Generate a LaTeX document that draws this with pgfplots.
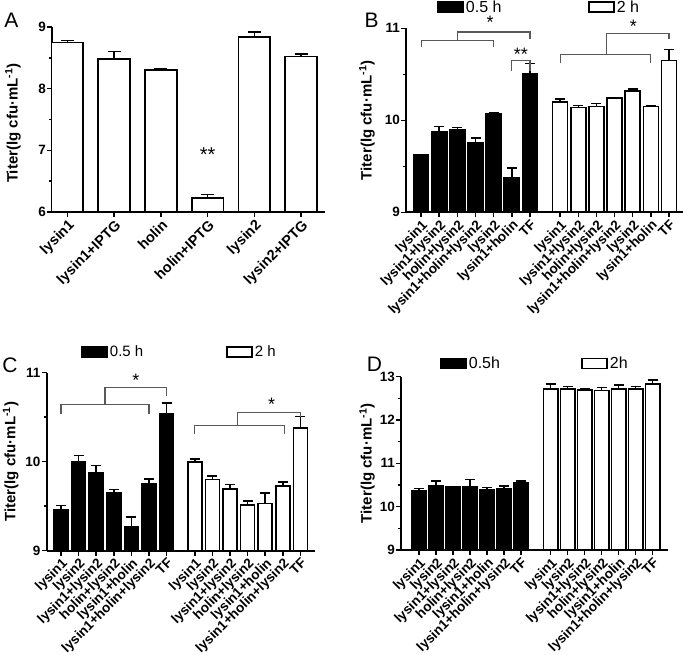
\documentclass[border=0pt]{standalone}
\usepackage{fontspec}
\setmainfont{Liberation Sans}
\usepackage{pgfplots}
\pgfplotsset{compat=1.18}
\tikzset{brk/.style={gray!70!black,line width=1.1pt}}
\pgfplotsset{
  panel/.style={
    scale only axis,
    anchor=south west,
    axis lines=left,
    axis line style={line width=1.7pt,-},
    clip mode=individual,
    tick align=outside,
    major tick length=5pt,
    minor tick length=3pt,
    every tick/.style={black,line width=1.5pt},
    minor y tick num=1,
    /pgf/number format/assume math mode=true,
    yticklabel style={font=\bfseries\fontsize{13.5}{13.5}\selectfont, inner sep=1pt},
    xticklabel style={font=\bfseries\fontsize{13.6}{13.6}\selectfont, rotate=45, anchor=north east, inner sep=1pt},
    ylabel={Titer(lg cfu·mL\textsuperscript{-1})},
    ylabel style={font=\bfseries\fontsize{15}{15}\selectfont, anchor=center},
    error bars/y dir=plus,
    error bars/y explicit,
    error bars/error bar style={line width=1.5pt,black},
    error bars/error mark options={rotate=90,mark size=5pt,line width=1.5pt,black},
    legend style={draw=none,fill=none,anchor=west,inner sep=0pt,font=\fontsize{15}{15}\selectfont},
  },
  blackbar/.style={ybar,bar shift=0pt,fill=black,draw=black,line width=1.7pt,
    legend image code/.code={\draw[fill=black,draw=black,line width=1.7pt] (0pt,-5pt) rectangle (25pt,5pt);}},
  whitebar/.style={ybar,bar shift=0pt,fill=white,draw=black,line width=1.7pt,
    legend image code/.code={\draw[fill=white,draw=black,line width=1.7pt] (0pt,-5pt) rectangle (25pt,5pt);}},
  Bpos/.style={at={(406pt,442.7pt)}, width=277pt, height=184pt,
    xmin=-0.83, xmax=14.43, ymin=9, ymax=11},
  Cpos/.style={at={(46.7pt,104.3pt)}, width=268.3pt, height=178pt,
    xmin=-0.81, xmax=14.43, ymin=9, ymax=11},
  Dpos/.style={at={(401pt,105pt)}, width=267pt, height=173.3pt,
    xmin=-1.06, xmax=14.65, ymin=9, ymax=13},
}
\begin{document}
\begin{tikzpicture}
\useasboundingbox (0pt,0pt) rectangle (685pt,655pt);

% ---------------- Panel A ----------------
\begin{axis}[panel,
  at={(52pt,443pt)}, width=273pt, height=185pt,
  xmin=-0.33, xmax=5.51, ymin=6, ymax=9,
  ytick={6,7,8,9},
  xtick={0,1,2,3,4,5},
  xticklabels={lysin1,lysin1+IPTG,holin,holin+IPTG,lysin2,lysin2+IPTG},
  xticklabel style={font=\bfseries\fontsize{14.5}{14.5}\selectfont},
  ylabel style={at={(axis description cs:-0.143,0.48)}},
  error bars/error mark options={rotate=90,mark size=6.5pt,line width=1.5pt,black},
]
\addplot[whitebar, bar width=31.7pt] coordinates {
  (0,8.75) +- (0,0.03)
  (1,8.48) +- (0,0.12)
  (2,8.30) +- (0,0.03)
  (3,6.23) +- (0,0.05)
  (4,8.84) +- (0,0.08)
  (5,8.52) +- (0,0.04)
};
\node[font=\fontsize{20}{20}\selectfont] at (axis cs:3,6.93) {**};
\end{axis}
\node[font=\fontsize{21}{21}\selectfont] at (11.5pt,634.5pt) {A};

% ---------------- Panel B ----------------
\begin{axis}[panel, Bpos, hide axis,
  legend style={at={(axis description cs:0.657,1.114)},font=\fontsize{16}{16}\selectfont},
]
\addplot[whitebar, bar width=15pt] coordinates {
  (7.66,10.20) +- (0,0.03)
  (8.66,10.14) +- (0,0.02)
  (9.66,10.15) +- (0,0.03)
  (10.66,10.24) +- (0,0.01)
  (11.66,10.32) +- (0,0.02)
  (12.66,10.15) +- (0,0.01)
  (13.66,10.65) +- (0,0.12)
};
\addlegendentry{2 h}
\end{axis}
\begin{axis}[panel, Bpos,
  ytick={9,10,11},
  xtick={0,1,2,3,4,5,6,7.66,8.66,9.66,10.66,11.66,12.66,13.66},
  xticklabels={lysin1,lysin1+lysin2,holin+lysin2,lysin1+holin+lysin2,lysin2,lysin1+holin,TF,
               lysin1,lysin1+lysin2,holin+lysin2,lysin1+holin+lysin2,lysin2,lysin1+holin,TF},
  ylabel style={at={(axis description cs:-0.141,0.5)}},
  legend style={at={(axis description cs:0.112,1.114)},font=\fontsize{16}{16}\selectfont},
]
\addplot[blackbar, bar width=15pt] coordinates {
  (0,9.62) +- (0,0.01)
  (1,9.87) +- (0,0.06)
  (2,9.90) +- (0,0.02)
  (3,9.75) +- (0,0.06)
  (4,10.07) +- (0,0.01)
  (5,9.37) +- (0,0.11)
  (6,10.50) +- (0,0.12)
};
\addlegendentry{0.5 h}
\draw[brk] (axis cs:0,10.80) -- (axis cs:0,10.87) -- (axis cs:4,10.87) -- (axis cs:4,10.80);
\draw[brk] (axis cs:2,10.87) -- (axis cs:2,10.96) -- (axis cs:6,10.96) -- (axis cs:6,10.88);
\node[font=\fontsize{18}{18}\selectfont] at (axis cs:3.8,11.07) {*};
\draw[brk] (axis cs:5,10.54) -- (axis cs:5,10.65) -- (axis cs:6,10.65) -- (axis cs:6,10.54);
\node[font=\fontsize{18}{18}\selectfont] at (axis cs:5.5,10.72) {**};
\draw[brk] (axis cs:7.66,10.62) -- (axis cs:7.66,10.72) -- (axis cs:12.66,10.72) -- (axis cs:12.66,10.62);
\draw[brk] (axis cs:10.2,10.72) -- (axis cs:10.2,10.94) -- (axis cs:13.66,10.94) -- (axis cs:13.66,10.88);
\node[font=\fontsize{18}{18}\selectfont] at (axis cs:11.7,11.02) {*};
\end{axis}
\node[font=\fontsize{21}{21}\selectfont] at (371.5pt,634.5pt) {B};

% ---------------- Panel C ----------------
\begin{axis}[panel, Cpos, hide axis,
  legend style={at={(axis description cs:0.668,1.118)}},
]
\addplot[whitebar, bar width=14pt] coordinates {
  (7.6,10.00) +- (0,0.03)
  (8.6,9.80) +- (0,0.04)
  (9.6,9.69) +- (0,0.055)
  (10.6,9.51) +- (0,0.05)
  (11.6,9.53) +- (0,0.12)
  (12.6,9.73) +- (0,0.04)
  (13.6,10.38) +- (0,0.125)
};
\addlegendentry{2 h}
\end{axis}
\begin{axis}[panel, Cpos,
  ytick={9,10,11},
  xtick={0,1,2,3,4,5,6,7.6,8.6,9.6,10.6,11.6,12.6,13.6},
  xticklabels={lysin1,lysin2,lysin1+lysin2,holin+lysin2,lysin1+holin,lysin1+holin+lysin2,TF,
               lysin1,lysin2,lysin1+lysin2,holin+lysin2,lysin1+holin,lysin1+holin+lysin2,TF},
  ylabel style={at={(axis description cs:-0.134,0.5)}},
  legend style={at={(axis description cs:0.128,1.118)}},
]
\addplot[blackbar, bar width=14pt] coordinates {
  (0,9.46) +- (0,0.05)
  (1,10.00) +- (0,0.07)
  (2,9.88) +- (0,0.075)
  (3,9.65) +- (0,0.04)
  (4,9.27) +- (0,0.11)
  (5,9.75) +- (0,0.055)
  (6,10.535) +- (0,0.125)
};
\addlegendentry{0.5 h}
\draw[brk] (axis cs:0,10.54) -- (axis cs:0,10.64) -- (axis cs:5,10.64) -- (axis cs:5,10.54);
\draw[brk] (axis cs:2.5,10.64) -- (axis cs:2.5,10.835) -- (axis cs:6,10.835) -- (axis cs:6,10.74);
\node[font=\fontsize{18}{18}\selectfont] at (axis cs:4.26,10.92) {*};
\draw[brk] (axis cs:7.6,10.31) -- (axis cs:7.6,10.41) -- (axis cs:12.7,10.41) -- (axis cs:12.7,10.31);
\draw[brk] (axis cs:10.05,10.41) -- (axis cs:10.05,10.55) -- (axis cs:13.6,10.55) -- (axis cs:13.6,10.50);
\node[font=\fontsize{18}{18}\selectfont] at (axis cs:11.97,10.65) {*};
\end{axis}
\node[font=\fontsize{21}{21}\selectfont] at (10pt,290pt) {C};

% ---------------- Panel D ----------------
\begin{axis}[panel, Dpos, hide axis,
  legend style={at={(axis description cs:0.674,1.077)},font=\fontsize{16}{16}\selectfont},
]
\addplot[whitebar, bar width=14.5pt] coordinates {
  (7.75,12.72) +- (0,0.11)
  (8.75,12.71) +- (0,0.06)
  (9.75,12.69) +- (0,0.04)
  (10.75,12.68) +- (0,0.07)
  (11.75,12.72) +- (0,0.09)
  (12.75,12.72) +- (0,0.05)
  (13.75,12.83) +- (0,0.09)
};
\addlegendentry{2h}
\end{axis}
\begin{axis}[panel, Dpos,
  ytick={9,10,11,12,13},
  xtick={0,1,2,3,4,5,6,7.75,8.75,9.75,10.75,11.75,12.75,13.75},
  xticklabels={lysin1,lysin2,lysin1+lysin2,holin+lysin2,lysin1+holin,lysin1+holin+lysin2,TF,
               lysin1,lysin2,lysin1+lysin2,holin+lysin2,lysin1+holin,lysin1+holin+lysin2,TF},
  ylabel style={at={(axis description cs:-0.127,0.5)}},
  legend style={at={(axis description cs:0.146,1.077)},font=\fontsize{16}{16}\selectfont},
]
\addplot[blackbar, bar width=14.5pt] coordinates {
  (0,10.36) +- (0,0.06)
  (1,10.48) +- (0,0.11)
  (2,10.45) +- (0,0.01)
  (3,10.46) +- (0,0.17)
  (4,10.38) +- (0,0.06)
  (5,10.41) +- (0,0.07)
  (6,10.54) +- (0,0.05)
};
\addlegendentry{0.5h}
\end{axis}
\node[font=\fontsize{21}{21}\selectfont] at (374.5pt,290.5pt) {D};
\end{tikzpicture}
\end{document}
